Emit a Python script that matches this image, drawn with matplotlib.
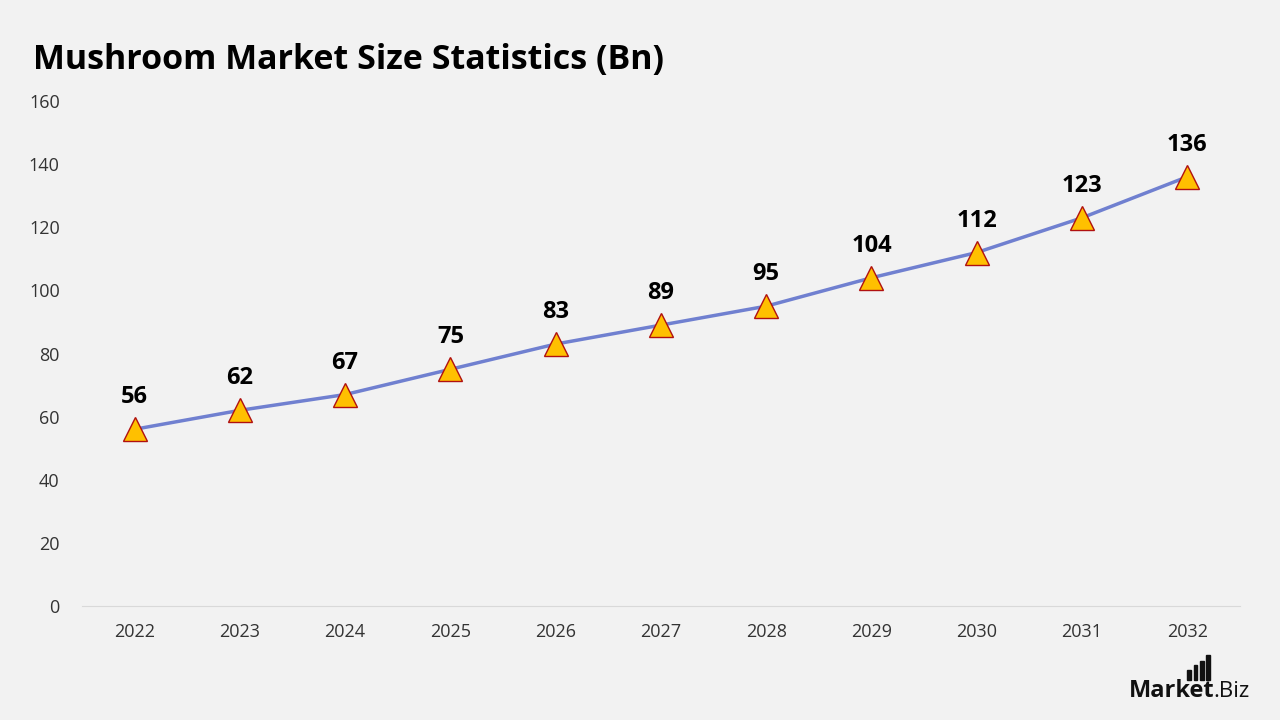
import matplotlib.pyplot as plt
from matplotlib import patches

years = [2022, 2023, 2024, 2025, 2026, 2027, 2028, 2029, 2030, 2031, 2032]
market_size = [56, 62, 67, 75, 83, 89, 95, 104, 112, 123, 136]
y_ticks = [0, 20, 40, 60, 80, 100, 120, 140, 160]

plt.rcParams['font.family'] = ['Open Sans', 'DejaVu Sans']
bg = '#f2f2f2'

fig = plt.figure(figsize=(12.8, 7.2), dpi=100, facecolor=bg)
ax = fig.add_axes([0.064, 0.1583, 0.9047, 0.7014], facecolor=bg)

ax.plot(years, market_size, color='#7080d0', lw=2.5, zorder=2)
ax.plot(years, market_size, linestyle='none', marker='^', markersize=17,
        markerfacecolor='#ffc000', markeredgecolor='#b01010', markeredgewidth=1, zorder=3)

for x, y in zip(years, market_size):
    ax.annotate(str(y), (x, y), xytext=(0, 23), textcoords='offset points',
                ha='center', va='center', fontsize=17, fontweight='bold', color='black')

ax.set_xlim(2021.5, 2032.5)
ax.set_ylim(0, 160)
ax.set_xticks(years)
ax.set_yticks(y_ticks)
ax.tick_params(axis='both', length=0, labelsize=13, colors='#333333')
ax.tick_params(axis='x', pad=12)
ax.tick_params(axis='y', pad=16)
for side in ['top', 'right', 'left']:
    ax.spines[side].set_visible(False)
ax.spines['bottom'].set_color('#d9d9d9')

fig.text(0.026, 0.917, 'Mushroom Market Size Statistics (Bn)', fontsize=24.5,
         fontweight='bold', color='black', va='center', ha='left')

# logo
fig.text(0.882, 0.040, 'Market', fontsize=17, fontweight='bold', color='#111111', ha='left', va='center')
fig.text(0.9478, 0.040, '.Biz', fontsize=16, color='#111111', ha='left', va='center')
for i, h in enumerate([0.014, 0.02, 0.026, 0.034]):
    fig.add_artist(patches.Rectangle((0.9275 + i * 0.005, 0.056), 0.0028, h,
                                     transform=fig.transFigure, color='#111111'))

fig.savefig('out.png', dpi=100, facecolor=bg)
